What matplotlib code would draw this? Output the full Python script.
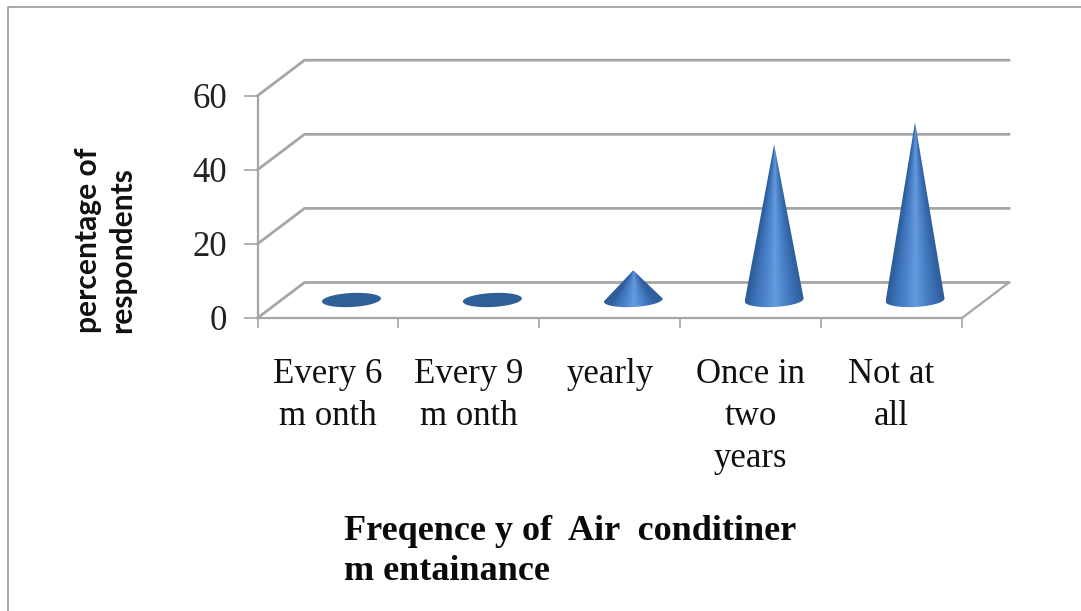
import numpy as np
import matplotlib
matplotlib.use("Agg")
import matplotlib.pyplot as plt
from matplotlib.colors import LinearSegmentedColormap
from matplotlib.lines import Line2D
from matplotlib.patches import Polygon

categories = ["Every 6\nm onth", "Every 9\nm onth", "yearly", "Once in\ntwo\nyears", "Not at\nall"]
values = [0, 0, 8, 42, 48]
y_ticks = [0, 20, 40, 60]
y_label = "percentage of\nrespondents"
x_title = "Freqence y of  Air  conditiner\nm entainance"

W, H = 1081, 611
GRAY = "#a6a6a6"
fig = plt.figure(figsize=(W / 100, H / 100), dpi=100, facecolor="white")
fig.add_artist(Line2D([8 / W, 8 / W, 1], [0, 1 - 7 / H, 1 - 7 / H], transform=fig.transFigure,
                      color="#9a9a9a", lw=1.2))
ax = fig.add_axes([257.5 / W, 1 - 318 / H, (962 - 257.5) / W, (318 - 95.7) / H])
ax.set_facecolor("none")
ax.set_xlim(-0.5, 4.5)
ax.set_ylim(0, 60)

px_x = 5 / (962 - 257.5)
px_y = 60 / (318 - 95.7)
DX, DY = 47 * px_x, 35.5 * px_y

# back wall grid, side wall and floor
for t in y_ticks:
    ax.plot([-0.5, -0.5 + DX, 4.5 + DX], [t, t + DY, t + DY], color=GRAY, lw=2.0, clip_on=False,
            solid_joinstyle="miter", zorder=1)
ax.plot([4.5, 4.5 + DX], [0, DY], color=GRAY, lw=1.6, clip_on=False, zorder=1)

for s in ("top", "right"):
    ax.spines[s].set_visible(False)
for s in ("left", "bottom"):
    ax.spines[s].set_color(GRAY)
    ax.spines[s].set_linewidth(1.6)
ax.set_yticks(y_ticks)
ax.set_xticks(range(len(categories)))
ax.set_xticklabels(categories, family="Liberation Serif", fontsize=25, color="#111111", linespacing=1.36)
ax.set_xticks(np.arange(-0.5, 5), minor=True)
ax.tick_params(axis="x", which="major", length=0, pad=29)
ax.tick_params(axis="x", which="minor", length=7, width=1.2, color=GRAY)
ax.tick_params(axis="y", length=10, width=1.2, color=GRAY, pad=12, labelsize=25, labelcolor="#222222")
for lab in ax.get_yticklabels():
    lab.set_family("Liberation Serif")

cmap = LinearSegmentedColormap.from_list(
    "cone", ["#2e5f9c", "#3f75bc", "#4e85cc", "#659ce0", "#4e85cb", "#3c70b4", "#2f5f9c"])
rx = 29.5 * px_x
ry = 7 * px_y
base_y = 18 * px_y
tilt = 1.5 * px_y

for i, v in enumerate(values):
    cx = i + DX / 2
    if v <= 0:
        th = np.linspace(0, 2 * np.pi, 80)
        ax.fill(cx + rx * np.cos(th), base_y + ry * np.sin(th) + tilt * np.cos(th),
                color="#2f5f97", lw=0, clip_on=False, zorder=3)
        continue
    th = np.linspace(np.pi, 2 * np.pi, 60)
    xs = np.r_[cx, cx + rx * np.cos(th)]
    ys = np.r_[base_y + v, base_y + ry * np.sin(th) + tilt * np.cos(th)]
    poly = Polygon(np.c_[xs, ys], closed=True, transform=ax.transData, fc="none", ec="none")
    ax.add_patch(poly)
    # the shading converges on the apex of the cone
    gx = np.linspace(-1, 1, 200)
    gy = np.linspace(1, 0, 300)
    U, T = np.meshgrid(gx, gy)
    shade = np.clip(U / np.maximum(1 - T, 1e-3), -1, 1) * 0.5 + 0.5
    im = ax.imshow(shade, cmap=cmap, vmin=0, vmax=1,
                   extent=(cx - rx, cx + rx, base_y - ry - 2, base_y + v),
                   aspect="auto", zorder=3, interpolation="bilinear")
    im.set_clip_path(poly)
ax.set_xlim(-0.5, 4.5)
ax.set_ylim(0, 60)

fig.text(105 / W, 1 - 240 / H, y_label, rotation=90, ha="center", va="center", multialignment="left",
         family="Lato", fontweight="bold", fontsize=21.6, linespacing=1.25, color="#111111")
fig.text(344 / W, 1 - 552 / H, x_title, ha="left", va="center", family="Liberation Serif",
         fontweight="bold", fontsize=26, linespacing=1.28, color="#0a0a0a")
fig.savefig("out.png", dpi=100, facecolor="white")
